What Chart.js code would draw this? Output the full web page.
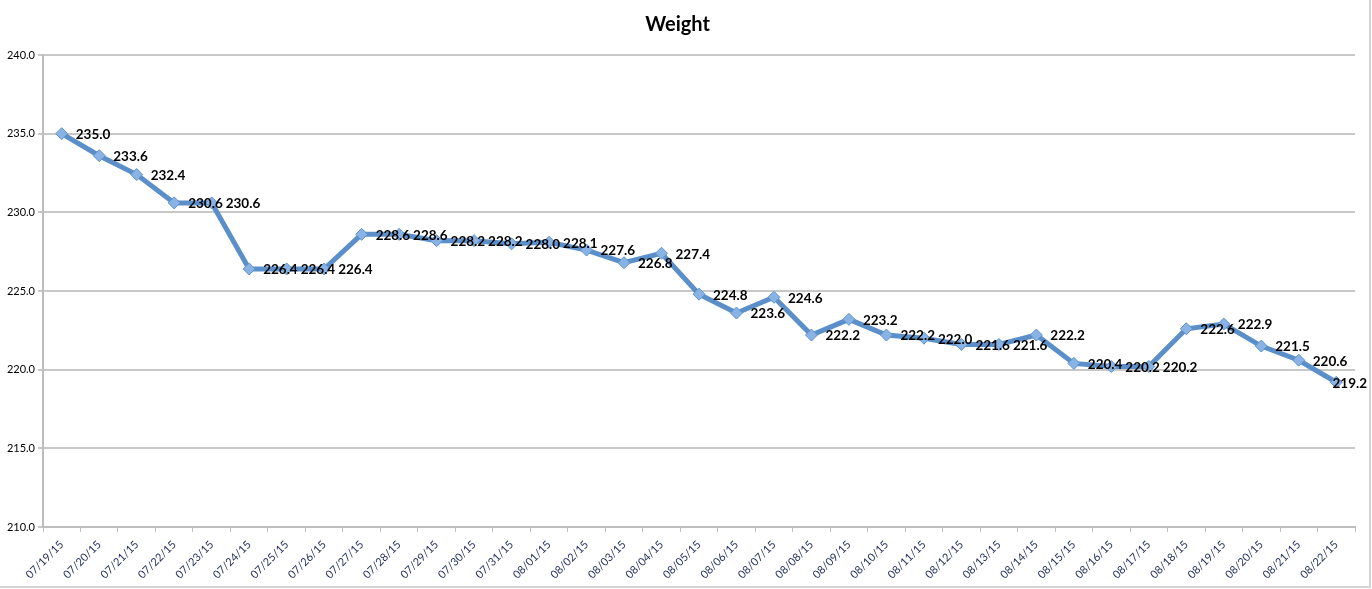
<!DOCTYPE html>
<html>
<head>
<meta charset="utf-8">
<script src="https://cdn.jsdelivr.net/npm/chart.js@4"></script>
<style>
  html, body { margin: 0; padding: 0; background: #fff; }
  #wrap { position: relative; width: 1372px; height: 589px; }
</style>
</head>
<body>
<div id="wrap"><canvas id="c" width="1372" height="589"></canvas></div>
<script>
const categories = [
  "07/19/15","07/20/15","07/21/15","07/22/15","07/23/15","07/24/15","07/25/15",
  "07/26/15","07/27/15","07/28/15","07/29/15","07/30/15","07/31/15","08/01/15",
  "08/02/15","08/03/15","08/04/15","08/05/15","08/06/15","08/07/15","08/08/15",
  "08/09/15","08/10/15","08/11/15","08/12/15","08/13/15","08/14/15","08/15/15",
  "08/16/15","08/17/15","08/18/15","08/19/15","08/20/15","08/21/15","08/22/15"
];
const weights = [
  235.0, 233.6, 232.4, 230.6, 230.6, 226.4, 226.4,
  226.4, 228.6, 228.6, 228.2, 228.2, 228.0, 228.1,
  227.6, 226.8, 227.4, 224.8, 223.6, 224.6, 222.2,
  223.2, 222.2, 222.0, 221.6, 221.6, 222.2, 220.4,
  220.2, 220.2, 222.6, 222.9, 221.5, 220.6, 219.2
];
const yMin = 210;
const yMax = 240;
const yStep = 5;
const chartTitle = "Weight";

const pointLabels = {
  id: 'pointLabels',
  afterDatasetsDraw(chart) {
    const ctx = chart.ctx;
    const meta = chart.getDatasetMeta(0);
    ctx.save();
    ctx.font = 'bold 13.5px Lato, "Open Sans", sans-serif';
    ctx.fillStyle = '#000';
    ctx.textAlign = 'left';
    ctx.textBaseline = 'middle';
    const limit = chart.width - 5;
    meta.data.forEach((pt, i) => {
      const txt = weights[i].toFixed(1);
      const w = ctx.measureText(txt).width;
      let x = pt.x + 14;
      if (x + w > limit) x = limit - w;
      ctx.fillText(txt, x, pt.y + 1);
    });
    ctx.restore();
  }
};

const frame = {
  id: 'frame',
  beforeDraw(chart) {
    const ctx = chart.ctx;
    ctx.save();
    ctx.strokeStyle = '#d4d4d4';
    ctx.lineWidth = 2;
    ctx.beginPath();
    ctx.moveTo(1370, 0); ctx.lineTo(1370, 588);
    ctx.moveTo(0, 587); ctx.lineTo(1371, 587);
    ctx.stroke();
    ctx.restore();
  }
};

new Chart(document.getElementById('c'), {
  type: 'line',
  data: {
    labels: categories,
    datasets: [{
      data: weights,
      borderColor: '#5b8fc9',
      borderWidth: 5,
      tension: 0,
      pointStyle: 'rectRot',
      pointRadius: 6,
      pointHoverRadius: 6,
      pointBackgroundColor: '#88b3e4',
      pointBorderColor: '#5f93cc',
      pointBorderWidth: 1,
      fill: false
    }]
  },
  options: {
    responsive: false,
    animation: false,
    devicePixelRatio: 1,
    layout: { padding: { left: 0, right: 17, top: 0, bottom: 0 } },
    plugins: {
      legend: { display: false },
      tooltip: { enabled: false },
      title: {
        display: true,
        text: chartTitle,
        color: '#000',
        font: { family: 'Lato, "Open Sans", sans-serif', size: 20, weight: 'bold', lineHeight: 1.2 },
        padding: { top: 13, bottom: 18 }
      }
    },
    scales: {
      x: {
        type: 'category',
        offset: true,
        grid: {
          display: true,
          offset: true,
          drawOnChartArea: false,
          drawTicks: true,
          tickLength: 5,
          color: '#bdbdbd',
          lineWidth: 1
        },
        border: { display: true, color: '#bdbdbd', width: 2 },
        ticks: {
          autoSkip: false,
          maxRotation: 45,
          minRotation: 45,
          padding: 6,
          color: '#1f2d55',
          font: { family: 'Lato, "Open Sans", sans-serif', size: 11 }
        },
        afterFit(scale) { scale.height = 62; }
      },
      y: {
        min: yMin,
        max: yMax,
        grid: {
          color: '#c8c8c8',
          lineWidth: 2,
          drawTicks: true,
          tickLength: 5
        },
        border: { display: true, color: '#bdbdbd', width: 2 },
        ticks: {
          stepSize: yStep,
          padding: 3,
          color: '#000',
          font: { family: 'Lato, "Open Sans", sans-serif', size: 11 },
          callback: (v) => Number(v).toFixed(1)
        },
        afterFit(scale) { scale.width = 43; }
      }
    }
  },
  plugins: [pointLabels, frame]
});
</script>
</body>
</html>
